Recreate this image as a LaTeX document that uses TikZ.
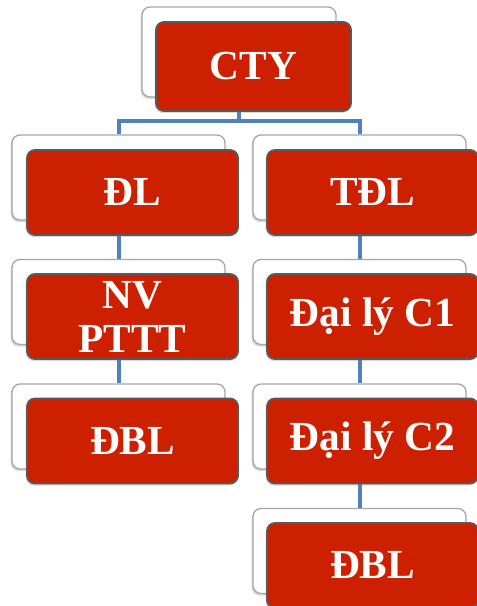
\documentclass[tikz,border=0pt]{standalone}
\usepackage{fontspec}
\setmainfont{Liberation Serif}
\usetikzlibrary{positioning, shadows, backgrounds}
\definecolor{boxred}{RGB}{204,32,0}
\definecolor{linkblue}{RGB}{79,129,189}
\tikzset{
    x=0.75pt, y=-0.75pt, % one unit is one pixel of the reference
    back/.style={draw=gray!70, fill=white, rounded corners=6pt, line width=1pt,
        minimum width=159.75pt, minimum height=63.75pt, drop shadow={shadow xshift=-1pt, shadow yshift=-1.5pt, opacity=0.3}},
    front/.style={draw=black!65, fill=boxred, rounded corners=6pt, line width=1.4pt,
        minimum width=158.25pt, minimum height=63.75pt, text=white, align=center,
        font=\fontsize{31}{33}\selectfont\bfseries,
        drop shadow={shadow xshift=-1pt, shadow yshift=-1.5pt, opacity=0.3}},
    link/.style={draw=linkblue, line width=3pt},
}

\begin{document}
\begin{tikzpicture}
    \useasboundingbox (0,0) rectangle (477,606);
    % top
    \node[back, minimum width=145.5pt, minimum height=67.5pt] (bcty) at (239,52) {};
    \node[front, minimum width=146.25pt, minimum height=66.75pt] (cty) at (253.5,66.5) {CTY};
    % left column
    \node[back] (bdl) at (118.5,177.5) {};
    \node[front] (dl) at (132.5,192.5) {ĐL};
    \node[back] (bnv) at (118.5,302) {};
    \node[front] (nv) at (132.5,316.5) {NV\\PTTT};
    \node[back] (bdbla) at (118.5,426.5) {};
    \node[front] (dbla) at (132.5,441) {ĐBL};
    % right column
    \node[back] (btdl) at (359.5,177.5) {};
    \node[front] (tdl) at (372.5,192.5) {TĐL};
    \node[back] (bca) at (359.5,302) {};
    \node[front] (ca) at (372.5,316.5) {Đại lý C1};
    \node[back] (bcb) at (359.5,426.5) {};
    \node[front] (cb) at (372.5,441) {Đại lý C2};
    \node[back] (bdblb) at (359.5,551) {};
    \node[front] (dblb) at (372.5,565.5) {ĐBL};
    % connectors
    \coordinate (bar) at (239,121);
    \begin{pgfonlayer}{background}
        \draw[link] (bcty) -- (bcty |- bar) -| (bdl);
        \draw[link] (bcty |- bar) -| (btdl);
        \draw[link] (bdl) -- (bnv) -- (bdbla);
        \draw[link] (btdl) -- (bca) -- (bcb) -- (bdblb);
    \end{pgfonlayer}
\end{tikzpicture}
\end{document}
